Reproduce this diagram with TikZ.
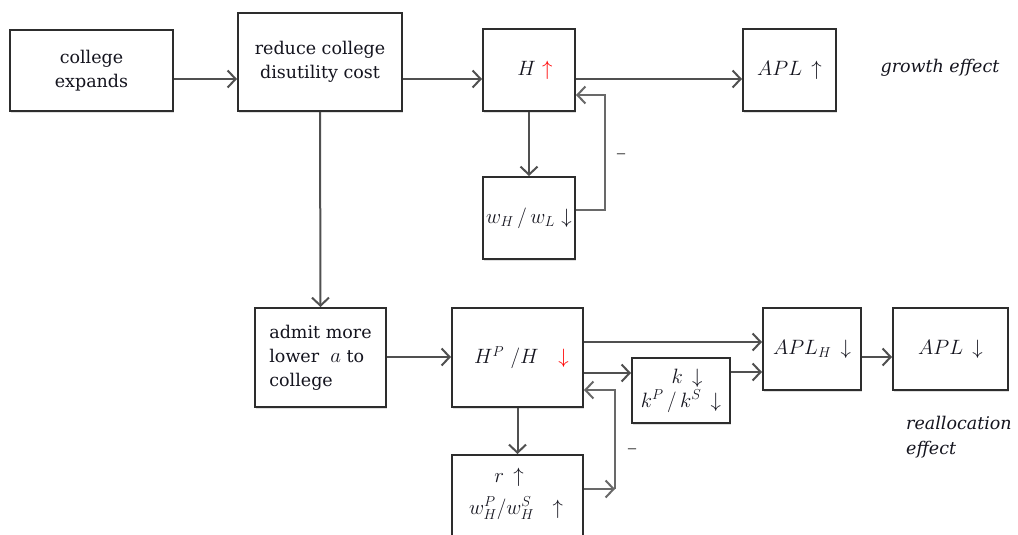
\documentclass[tikz,border=0pt]{standalone}
\usepackage{fontspec}
\setmainfont{DejaVu Serif}
\usetikzlibrary{arrows.meta,shadows}
\definecolor{boxcol}{RGB}{45,45,45}
\definecolor{linecol}{RGB}{80,80,80}
\definecolor{fbcol}{RGB}{105,105,105}
\definecolor{txtcol}{RGB}{20,20,30}
\newcommand\mthsz{\fontsize{20}{24}\selectfont}
\begin{document}
\begin{tikzpicture}[x=1pt,y=-1pt,
  box/.style={draw=boxcol, line width=2pt, fill=white, inner sep=2pt, align=center,
    font=\fontsize{17.5}{24}\selectfont, text=txtcol,
    drop shadow={shadow xshift=1.2pt, shadow yshift=-1.5pt, opacity=0.25}},
  mbox/.style={box, font=\mthsz},
  txt/.style={font=\fontsize{17.5}{24}\selectfont, text=txtcol, inner sep=0pt},
  conn/.style={draw=linecol, line width=2pt, -{Straight Barb[length=8pt,width=17pt,line width=2pt]}},
  fb/.style={draw=fbcol, line width=1.5pt, -{Straight Barb[length=8pt,width=17pt,line width=2pt]}},
  dashlbl/.style={font=\fontsize{20}{20}\selectfont, text=fbcol, inner sep=0pt}
]
\useasboundingbox (0,0) rectangle (1018,535);
\clip (0,0) rectangle (1018,535);
\fill[white] (0,0) rectangle (1018,535);

% boxes
\node[box, minimum width=163pt, minimum height=81pt] (ce) at (91.5,70.5) {college\\expands};
\node[box, minimum width=164pt, minimum height=98pt] (rc) at (320,62) {reduce college\\disutility cost};
\node[mbox, minimum width=92pt, minimum height=82pt] (H) at (529,70) {\hspace*{12pt}$H$ \textcolor{red}{$\uparrow$}};
\node[mbox, minimum width=93pt, minimum height=82pt] (APL) at (789.5,70) {\raisebox{-5pt}{$APL\,\uparrow$}};
\node[mbox, minimum width=92pt, minimum height=82pt] (w) at (529,218) {$w_H\,/\,w_L$ $\downarrow$};

\node[box, minimum width=131pt, minimum height=99pt] (admit) at (320.5,357.5) {\begin{tabular}{@{}l@{}}admit more\\lower\ \ {\mthsz$a$} to\\college\end{tabular}};
\node[mbox, minimum width=131pt, minimum height=99pt] (HP) at (517.5,357.5) {\raisebox{-5pt}{\hspace*{8pt}$H^P\ /H$\quad\textcolor{red}{$\downarrow$}}};
\node[box, minimum width=131pt, minimum height=100pt] (r) at (517.5,505) {};
\node[txt, font=\mthsz] (rt1) at (509,477) {$r\,\uparrow$};
\node[txt, font=\mthsz] (rt2) at (516,508) {$w^P_H/w^S_H\ \ \uparrow$};
\node[mbox, minimum width=98pt, minimum height=65pt, inner sep=1pt] (k) at (681,390.5) {\hspace*{12pt}$k\,\downarrow$\\$k^P\,/\,k^S\,\downarrow$};
\node[mbox, minimum width=98pt, minimum height=82pt] (APLH) at (812,349) {\raisebox{-5pt}{$APL_H\,\downarrow$}};
\node[mbox, minimum width=115pt, minimum height=82pt] (APL2) at (950.5,349) {\raisebox{-5pt}{$APL\,\downarrow$}};

% free texts
\node[txt, font=\fontsize{17.5}{24}\selectfont\itshape] (ge) at (940,68) {growth effect};
\node[txt, font=\fontsize{17.5}{25}\selectfont\itshape, align=left, anchor=north west] (re) at (906,416) {reallocation\\effect};
\node[dashlbl] (m1) at (621,157) {--};
\node[dashlbl] (m2) at (632,452) {--};

% connectors
\draw[conn] (ce.east|-0,79) -- (rc.west|-0,79);
\draw[conn] (rc.east|-0,79) -- (H.west|-0,79);
\draw[conn] (H.east|-0,79) -- (APL.west|-0,79);
\draw[conn] (H.south) -- (w.north);
\coordinate (f1a) at (605,210);
\coordinate (f1b) at (605,95);
\draw[fb] (w.east|-f1a) -- (f1a) -- (f1b) -- (H.east|-f1b);

\draw[conn] (rc.south) -- (admit.north);
\draw[conn] (admit.east|-0,357) -- (HP.west|-0,357);
\draw[conn] (HP.south) -- (r.north);
\draw[conn] (HP.east|-0,342) -- (APLH.west|-0,342);
\draw[conn] (HP.east|-0,373) -- (k.west|-0,373);
\draw[conn] (k.east|-0,372) -- (APLH.west|-0,372);
\draw[conn] (APLH.east|-0,357) -- (APL2.west|-0,357);
\coordinate (f2a) at (615,489);
\coordinate (f2b) at (615,390);
\draw[fb] (r.east|-f2a) -- (f2a);
\draw[fb] (f2a) -- (f2b) -- (HP.east|-f2b);
\end{tikzpicture}
\end{document}
